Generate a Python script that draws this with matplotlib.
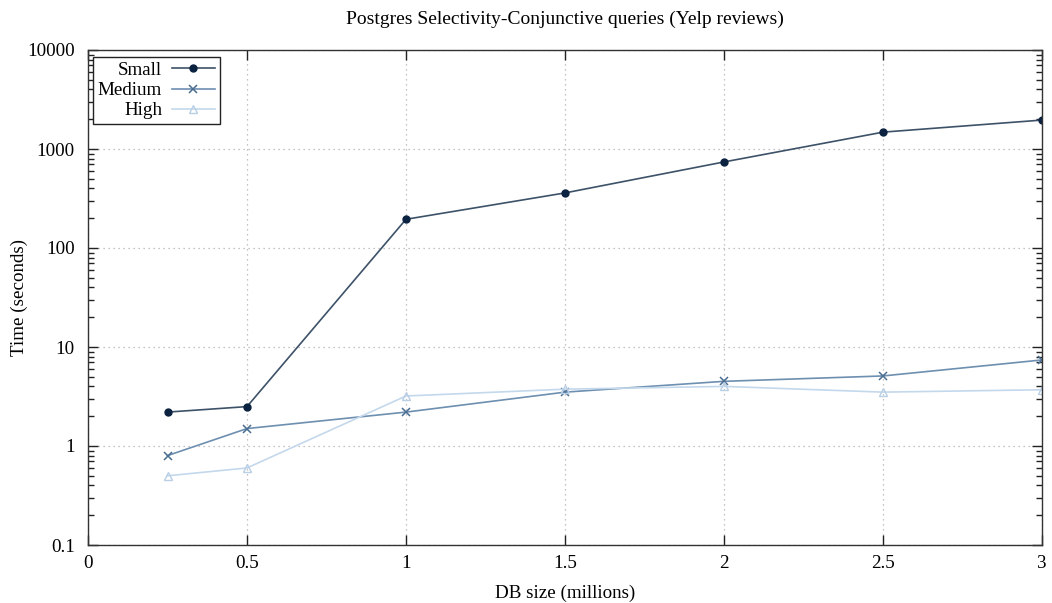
import matplotlib
matplotlib.use("Agg")
import matplotlib.pyplot as plt
from matplotlib.ticker import LogLocator, FixedLocator, FuncFormatter

plt.rcParams['font.family'] = ['Liberation Serif', 'DejaVu Serif']

db_size = [0.25, 0.5, 1, 1.5, 2, 2.5, 3]
small = [2.2, 2.5, 195, 360, 740, 1480, 1960]
medium = [0.8, 1.5, 2.2, 3.5, 4.5, 5.1, 7.4]
high = [0.5, 0.6, 3.2, 3.75, 4.0, 3.5, 3.7]

x_ticks = [0, 0.5, 1, 1.5, 2, 2.5, 3]
x_tick_labels = ["0", "0.5", "1", "1.5", "2", "2.5", "3"]
y_ticks = [0.1, 1, 10, 100, 1000, 10000]
y_tick_labels = ["0.1", "1", "10", "100", "1000", "10000"]

FS = 13.7

fig = plt.figure(figsize=(10.52, 6.03), dpi=100)
ax = fig.add_axes([88 / 1052, 1 - 545 / 603, (1042 - 88) / 1052, (545 - 50) / 603])

ax.plot(db_size, small, color="#3d5268", lw=1.2, marker="o", ms=5,
        mfc="#0b2240", mec="#0b2240", label="Small")
ax.plot(db_size, medium, color="#6d8fb0", lw=1.2, marker="x", ms=6,
        mew=1.1, mec="#4a6d92", label="Medium")
ax.plot(db_size, high, color="#c4d8ec", lw=1.2, marker="^", ms=6,
        mfc="none", mec="#b8cfe6", label="High")

ax.set_yscale("log")
ax.set_xlim(0, 3)
ax.set_ylim(0.1, 10000)
ax.xaxis.set_major_locator(FixedLocator(x_ticks))
ax.set_xticklabels(x_tick_labels)
ax.yaxis.set_major_locator(FixedLocator(y_ticks))
ax.yaxis.set_major_formatter(FuncFormatter(lambda v, p: y_tick_labels[y_ticks.index(v)] if v in y_ticks else ""))
ax.yaxis.set_minor_locator(LogLocator(base=10, subs=range(2, 10), numticks=20))
ax.yaxis.set_minor_formatter(FuncFormatter(lambda v, p: ""))

ax.tick_params(which="both", direction="in", top=True, right=True, labelsize=FS,
               color="#222222", width=1.0)
ax.tick_params(which="major", length=7)
ax.tick_params(which="minor", length=4)
ax.tick_params(axis="x", which="major", pad=7)
ax.tick_params(axis="y", which="major", pad=9.5)

for s in ax.spines.values():
    s.set_color("#333333")
    s.set_linewidth(1.0)

ax.grid(True, which="major", color="#b0b0b0", linestyle=(0, (1, 3)), lw=0.9)

ax.set_title("Postgres Selectivity-Conjunctive queries (Yelp reviews)", fontsize=14, pad=18.5)
ax.set_xlabel("DB size (millions)", fontsize=FS, labelpad=9)
ax.set_ylabel("Time (seconds)", fontsize=FS)
ax.yaxis.set_label_coords(-60 / 954, 0.5)

leg = ax.legend(loc="upper left", bbox_to_anchor=(5 / 954, 1 - 7 / 495), markerfirst=False,
                fontsize=FS, frameon=True, fancybox=False, framealpha=1,
                edgecolor="#222222", handlelength=2.3, handletextpad=0.5,
                borderpad=0.25, labelspacing=0.15, borderaxespad=0)
leg.get_frame().set_linewidth(1.0)

fig.savefig("out.png", dpi=100)
